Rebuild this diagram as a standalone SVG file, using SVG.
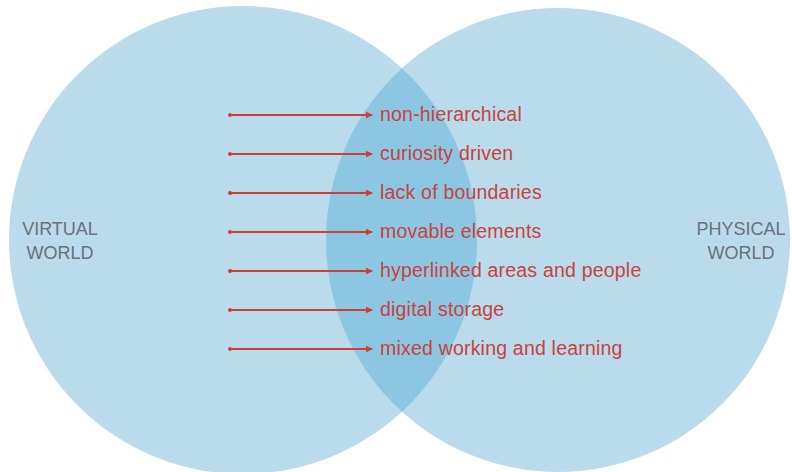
<svg xmlns="http://www.w3.org/2000/svg" width="792" height="472" viewBox="0 0 792 472">
<style>
.circ{fill:#b9dbec}
.lens{fill:#8dc6e2}
.lbl{font-family:"Liberation Sans",Arial,sans-serif;font-size:19.5px;letter-spacing:0.2px;fill:#c8433c}
.world{font-family:"Liberation Sans",Arial,sans-serif;font-size:18px;fill:#6b7176;text-anchor:middle}
.conn line{stroke:#cf3f30;stroke-width:2.2}
</style>
<defs>
<marker id="ah" markerWidth="8" markerHeight="8" refX="6" refY="4" orient="auto" markerUnits="userSpaceOnUse">
<path d="M0,0.8 L7,4 L0,7.2 Z" fill="#cf3f30"/>
</marker>
<marker id="dot" markerWidth="6" markerHeight="6" refX="3" refY="3" markerUnits="userSpaceOnUse">
<circle cx="3" cy="3" r="2" fill="#cf3f30"/>
</marker>
<clipPath id="clipL"><circle cx="243" cy="240" r="234"/></clipPath>
</defs>
<rect width="792" height="472" fill="#ffffff"/>
<g id="virtual-world">
<circle class="circ" cx="243" cy="240" r="234"/>
<text class="world" x="60" y="235">VIRTUAL</text>
<text class="world" x="60" y="259">WORLD</text>
</g>
<g id="physical-world">
<circle class="circ" cx="558" cy="240" r="232"/>
<text class="world" x="741" y="235">PHYSICAL</text>
<text class="world" x="741" y="259">WORLD</text>
</g>
<g id="overlap">
<circle class="lens" cx="558" cy="240" r="232" clip-path="url(#clipL)"/>
</g>
<g id="connectors" class="conn">
<line x1="230" y1="115" x2="372" y2="115" marker-start="url(#dot)" marker-end="url(#ah)"/>
<line x1="230" y1="154" x2="372" y2="154" marker-start="url(#dot)" marker-end="url(#ah)"/>
<line x1="230" y1="193" x2="372" y2="193" marker-start="url(#dot)" marker-end="url(#ah)"/>
<line x1="230" y1="232" x2="372" y2="232" marker-start="url(#dot)" marker-end="url(#ah)"/>
<line x1="230" y1="271" x2="372" y2="271" marker-start="url(#dot)" marker-end="url(#ah)"/>
<line x1="230" y1="310" x2="372" y2="310" marker-start="url(#dot)" marker-end="url(#ah)"/>
<line x1="230" y1="349" x2="372" y2="349" marker-start="url(#dot)" marker-end="url(#ah)"/>
</g>
<g id="labels">
<text class="lbl" x="380" y="121">non-hierarchical</text>
<text class="lbl" x="380" y="160">curiosity driven</text>
<text class="lbl" x="380" y="199">lack of boundaries</text>
<text class="lbl" x="380" y="238">movable elements</text>
<text class="lbl" x="380" y="277">hyperlinked areas and people</text>
<text class="lbl" x="380" y="316">digital storage</text>
<text class="lbl" x="380" y="355">mixed working and learning</text>
</g>
</svg>
